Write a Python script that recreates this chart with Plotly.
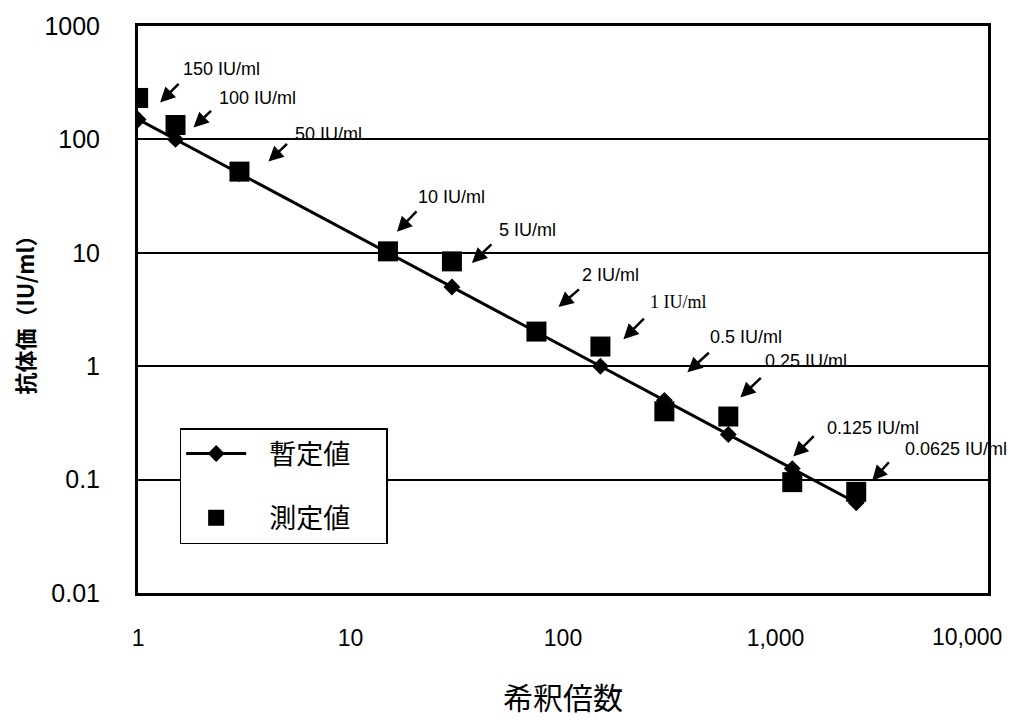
import math
import plotly.graph_objects as go

# ---- data ----
dilution = [1, 1.5, 3, 15, 30, 75, 150, 300, 600, 1200, 2400]
nominal = [150, 100, 50, 10, 5, 2, 1, 0.5, 0.25, 0.125, 0.0625]
measured = [232, 134, 52, 10.3, 8.4, 2.02, 1.49, 0.40, 0.36, 0.095, 0.078]
point_labels = ["150 IU/ml", "100 IU/ml", "50 IU/ml", "10 IU/ml", "5 IU/ml", "2 IU/ml",
                "1 IU/ml", "0.5 IU/ml", "0.25 IU/ml", "0.125 IU/ml", "0.0625 IU/ml"]
x_tickvals = [1, 10, 100, 1000, 10000]
x_ticktext = ["1", "10", "100", "1,000", "10,000"]
y_tickvals = [0.01, 0.1, 1, 10, 100, 1000]
y_ticktext = ["0.01", "0.1", "1", "10", "100", "1000"]

# label layout (pixel offsets relative to each nominal point)
arrow_tip_shift = [(22, 17), (18, 12), (29, 12), (9, 21), (20, 24), (22, 25),
                   (23, 27), (23, 28), (12, 37), (1, 12), (16, 22)]
arrow_tail = [(20, -20), (19, -18), (20, -19), (21, -22), (21, -20), (22, -19),
              (22, -22), (23, -21), (22, -21), (22, -22), (18, -20)]
text_shift = [(43, 50), (41, 41), (54, 40), (28, 56), (45, 57), (44, 57),
              (48, 64), (44, 63), (35, 73), (33, 41), (47, 54)]

SANS = "Liberation Sans, Arial, Noto Sans CJK JP"
CJK = "Noto Sans CJK JP, Liberation Sans"
PAD_L = "&nbsp;&nbsp;&nbsp;"
PAD_R = "&nbsp;&nbsp;&nbsp;&nbsp;&nbsp;"

fig = go.Figure()
fig.add_trace(go.Scatter(
    x=dilution, y=nominal, mode="lines+markers",
    name=PAD_L + "暫定値" + PAD_R,
    line=dict(color="black", width=3),
    marker=dict(symbol="diamond", size=13, color="black"),
    legendgroup="a",
))
fig.add_trace(go.Scatter(
    x=dilution, y=measured, mode="markers",
    name=PAD_L + "測定値" + PAD_R,
    marker=dict(symbol="square", size=20, color="black"),
    legendgroup="b",
))

annotations = []
for i, (d, v, lab) in enumerate(zip(dilution, nominal, point_labels)):
    lx, ly = math.log10(d), math.log10(v)   # annotations on log axes use log10 coords
    xs, ys = arrow_tip_shift[i]
    ax, ay = arrow_tail[i]
    annotations.append(dict(
        x=lx, y=ly, xref="x", yref="y",
        xshift=xs, yshift=ys, text="", showarrow=True,
        ax=ax, ay=ay, axref="pixel", ayref="pixel",
        arrowhead=2, arrowsize=1.2, arrowwidth=2.5, arrowcolor="black",
        standoff=0, startstandoff=0,
    ))
    tx, ty = text_shift[i]
    fam = "Liberation Serif, Times New Roman" if lab == "1 IU/ml" else SANS
    annotations.append(dict(
        x=lx, y=ly, xref="x", yref="y",
        xshift=tx, yshift=ty, text=lab, showarrow=False,
        xanchor="left", yanchor="middle",
        font=dict(family=fam, size=18, color="black"),
    ))

# last x tick label sits at the right edge; draw it right-aligned so it is not cut off
annotations.append(dict(
    x=math.log10(x_tickvals[-1]), y=0, xref="x", yref="paper",
    text=x_ticktext[-1], showarrow=False,
    xanchor="right", yanchor="middle", xshift=16, yshift=-44,
    font=dict(family=SANS, size=23, color="black"),
))

fig.update_layout(
    width=1000, height=710,
    margin=dict(l=130, r=20, t=18, b=125, autoexpand=False),
    paper_bgcolor="white", plot_bgcolor="white",
    font=dict(family=SANS, color="black"),
    showlegend=True,
    legend=dict(
        x=0.049, y=0.291, xanchor="left", yanchor="top",
        bgcolor="white", bordercolor="black", borderwidth=1.5,
        font=dict(family=CJK, size=27, color="black"),
        tracegroupgap=26, itemwidth=60,
    ),
    annotations=annotations,
)
fig.update_xaxes(
    type="log", range=[-0.0005, 4.0005], automargin=False,
    tickvals=x_tickvals[:-1], ticktext=x_ticktext[:-1],
    tickfont=dict(family=SANS, size=23),
    showgrid=False, zeroline=False,
    showline=True, linecolor="black", linewidth=3, mirror=True,
    ticks="", ticklabelstandoff=22,
    title=dict(text="希釈倍数", font=dict(family=CJK, size=30), standoff=40),
)
fig.update_yaxes(
    type="log", range=[-2, 3], automargin=False,
    tickvals=y_tickvals, ticktext=y_ticktext,
    tickfont=dict(family=SANS, size=25),
    showgrid=True, gridcolor="black", gridwidth=2, zeroline=False,
    showline=True, linecolor="black", linewidth=3, mirror=True,
    ticks="", ticklabelstandoff=30,
    title=dict(text="<b>抗体価（IU/ml）</b>", font=dict(family=CJK, size=22), standoff=10),
)

fig.write_html("out.html")
